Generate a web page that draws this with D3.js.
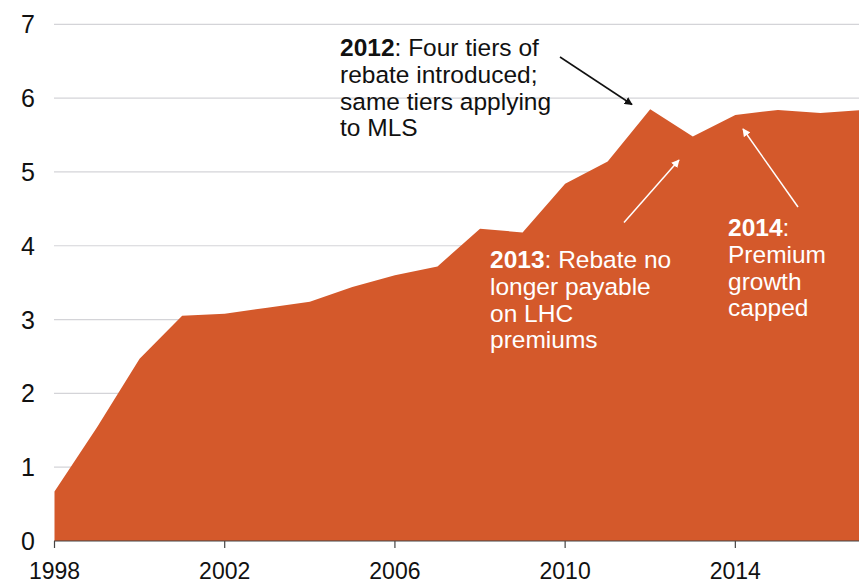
<!DOCTYPE html>
<html>
<head>
<meta charset="utf-8">
<script src="https://cdn.jsdelivr.net/npm/d3@7.9.0/dist/d3.min.js"></script>
<style>
  body { margin: 0; background: #fff; }
  svg { display: block; font-family: "Liberation Sans", Arial, sans-serif; }
</style>
</head>
<body>
<svg id="chart" width="859" height="582"></svg>
<script>
// Rebate expenditure, $ billion
const years = [1998, 1999, 2000, 2001, 2002, 2003, 2004, 2005, 2006, 2007,
               2008, 2009, 2010, 2011, 2012, 2013, 2014, 2015, 2016, 2017];
const values = [0.67, 1.54, 2.47, 3.05, 3.08, 3.16, 3.24, 3.44, 3.60, 3.72,
                4.23, 4.18, 4.84, 5.14, 5.85, 5.48, 5.77, 5.84, 5.80, 5.84];
const yTicks = [0, 1, 2, 3, 4, 5, 6, 7];
const xTicks = [1998, 2002, 2006, 2010, 2014];

const svg = d3.select("#chart");
const W = 859, H = 582;

const x = d3.scaleLinear().domain([1998, 2017]).range([54.5, 863]);
const y = d3.scaleLinear().domain([0, 7]).range([541, 24.3]);

const data = years.map((yr, i) => ({ year: yr, value: values[i] }));

// title sits mostly above the visible area, as in the source
svg.append("text")
    .attr("x", 450)
    .attr("y", -5)
    .attr("text-anchor", "middle")
    .attr("font-size", 20)
    .attr("fill", "#777")
    .text("Rebate expenditure, $ billion (real, 2016-17 prices) (by year)");

// arrowheads
const defs = svg.append("defs");
[["arrowBlack", "#111"], ["arrowWhite", "#fff"]].forEach(([id, col]) => {
    defs.append("marker")
        .attr("id", id)
        .attr("viewBox", "0 0 10 10")
        .attr("refX", 9)
        .attr("refY", 5)
        .attr("markerWidth", 8)
        .attr("markerHeight", 8)
        .attr("markerUnits", "userSpaceOnUse")
        .attr("orient", "auto")
        .append("path")
        .attr("d", "M0,0 L10,5 L0,10 z")
        .attr("fill", col);
});

// gridlines
svg.append("g")
    .selectAll("line")
    .data(yTicks.filter(d => d > 0))
    .enter()
    .append("line")
    .attr("x1", 54)
    .attr("x2", W)
    .attr("y1", d => y(d))
    .attr("y2", d => y(d))
    .attr("stroke", "#d4d4d8")
    .attr("stroke-width", 1.2);

// area
const area = d3.area()
    .x(d => x(d.year))
    .y0(y(0))
    .y1(d => y(d.value));

svg.append("path")
    .datum(data)
    .attr("d", area)
    .attr("fill", "#d4592b");

// x axis
const xAxis = svg.append("g").attr("transform", `translate(0,${y(0)})`);
xAxis.append("line")
    .attr("x1", 54).attr("x2", W)
    .attr("stroke", "#444").attr("stroke-width", 1.2);
xAxis.selectAll("line.tick")
    .data(xTicks)
    .enter()
    .append("line")
    .attr("class", "tick")
    .attr("x1", d => x(d)).attr("x2", d => x(d))
    .attr("y1", 0).attr("y2", 7)
    .attr("stroke", "#444").attr("stroke-width", 1.2);
xAxis.selectAll("text")
    .data(xTicks)
    .enter()
    .append("text")
    .attr("x", d => x(d))
    .attr("y", 37.5)
    .attr("text-anchor", "middle")
    .attr("font-size", 23)
    .attr("fill", "#111")
    .text(d => d);

// y labels
svg.append("g")
    .selectAll("text")
    .data(yTicks)
    .enter()
    .append("text")
    .attr("x", 35)
    .attr("y", d => y(d))
    .attr("dy", "0.36em")
    .attr("text-anchor", "end")
    .attr("font-size", 25)
    .attr("fill", "#111")
    .text(d => d);

// annotations
function note(xPos, yPos, bold, lines, col) {
    const t = svg.append("text")
        .attr("x", xPos)
        .attr("y", yPos)
        .attr("font-size", 24.5)
        .attr("fill", col);
    lines.forEach((ln, i) => {
        const ts = t.append("tspan").attr("x", xPos).attr("dy", i === 0 ? 0 : 26.8);
        if (i === 0) {
            ts.append("tspan").attr("font-weight", "bold").text(bold);
            ts.append("tspan").text(ln);
        } else {
            ts.text(ln);
        }
    });
}

note(340, 56, "2012", [": Four tiers of", "rebate introduced;", "same tiers applying", "to MLS"], "#111");
note(490, 268, "2013", [": Rebate no", "longer payable", "on LHC", "premiums"], "#fff");
note(728, 236, "2014", [":", "Premium", "growth", "capped"], "#fff");

const arrows = [
    { x1: 560, y1: 57, x2: 632, y2: 104.5, m: "arrowBlack", c: "#111" },
    { x1: 624, y1: 222.5, x2: 679, y2: 160, m: "arrowWhite", c: "#fff" },
    { x1: 798, y1: 207, x2: 743, y2: 129, m: "arrowWhite", c: "#fff" }
];
svg.append("g")
    .selectAll("line")
    .data(arrows)
    .enter()
    .append("line")
    .attr("x1", d => d.x1).attr("y1", d => d.y1)
    .attr("x2", d => d.x2).attr("y2", d => d.y2)
    .attr("stroke", d => d.c)
    .attr("stroke-width", 1.5)
    .attr("marker-end", d => `url(#${d.m})`);
</script>
</body>
</html>
